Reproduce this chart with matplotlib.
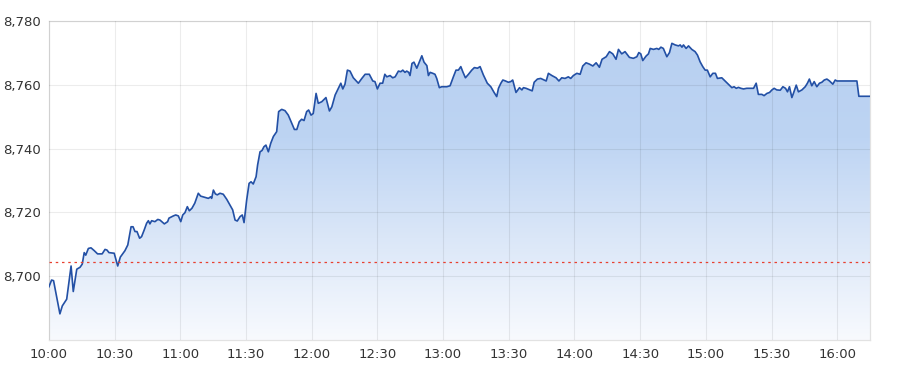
import matplotlib
matplotlib.use('Agg')
import matplotlib.pyplot as plt
import numpy as np
from matplotlib.colors import LinearSegmentedColormap
from matplotlib.ticker import FuncFormatter

# %% data (minutes after 10:00, index level)
minutes = [0, 1.2, 2.1, 3.5, 5.0, 6.1, 8.1, 10.1, 11.1, 12.7, 14.2, 15.2, 16.1, 16.8, 18.0, 19.2,
           20.7, 22.2, 24.3, 25.6, 26.5, 27.4, 29.8, 31.4, 32.6, 34.7, 36.0, 37.5, 38.4, 39.3,
           40.2, 41.4, 42.3, 43.5, 44.6, 45.4, 46.1, 46.9, 48.4, 49.7, 50.7, 52.7, 54.2, 54.8,
           56.8, 57.9, 59.1, 60.2, 61.1, 62.1, 63.2, 64.1, 65.3, 66.6, 68.2, 69.3, 71.3, 72.8,
           73.9, 74.3, 75.1, 76.0, 76.9, 78.1, 79.6, 81.2, 82.7, 83.9, 85.0, 86.0, 87.3, 88.3,
           89.1, 90.3, 91.4, 92.3, 93.3, 94.6, 95.3, 96.4, 97.3, 98.2, 99.1, 100.2, 101.3,
           102.5, 104.0, 104.9, 106.3, 107.8, 109.3, 110.9, 112.1, 113.2, 114.3, 115.4, 116.5,
           117.7, 118.6, 119.7, 120.7, 122.0, 123.0, 124.6, 126.5, 128.1, 129.2, 130.7, 132.2,
           133.3, 134.2, 135.2, 136.3, 137.5, 139.0, 141.3, 142.9, 144.4, 146.3, 147.9, 148.9,
           150.0, 151.2, 152.4, 153.4, 154.3, 155.8, 157.0, 158.1, 159.6, 160.7, 161.6, 162.6,
           163.4, 164.3, 164.9, 165.8, 166.7, 168.0, 169.2, 170.3, 171.3, 172.6, 173.3, 174.1,
           175.3, 176.3, 177.1, 178.3, 179.4, 181.7, 183.2, 184.7, 185.9, 187.0, 188.1, 189.0,
           190.2, 191.6, 193.1, 194.3, 195.7, 196.9, 198.4, 200.2, 201.8, 203.3, 204.5, 205.3,
           206.4, 207.3, 208.5, 209.8, 210.9, 211.8, 213.3, 214.9, 216.0, 216.7, 217.9, 219.7,
           220.7, 221.6, 223.1, 224.6, 226.1, 227.1, 228.1, 229.7, 231.6, 232.9, 234.2, 235.7,
           237.2, 238.3, 239.5, 241.1, 242.6, 243.8, 245.3, 246.8, 248.4, 249.9, 251.4, 252.6,
           254.5, 256.0, 257.5, 259.0, 260.1, 261.6, 263.1, 265.1, 266.9, 268.5, 269.4, 270.3,
           271.2, 272.7, 273.8, 274.6, 276.1, 277.6, 278.5, 279.5, 280.6, 282.2, 283.4, 284.5,
           286.0, 287.5, 288.3, 289.1, 289.8, 291.0, 292.1, 293.6, 295.1, 296.2, 297.4, 298.6,
           299.7, 300.7, 302.0, 303.2, 304.4, 305.3, 307.3, 308.8, 310.3, 311.9, 312.9, 313.9,
           314.9, 316.0, 317.2, 318.7, 321.8, 323.0, 324.0, 325.6, 326.6, 327.9, 329.1, 330.2,
           331.2, 332.4, 334.0, 335.2, 336.4, 337.3, 338.2, 339.3, 340.0, 341.3, 342.3, 343.9,
           345.4, 346.4, 347.3, 348.4, 349.5, 350.7, 351.9, 353.0, 354.1, 355.3, 356.5, 358.0,
           359.1, 359.9, 369.0, 369.9, 375.0]
price = [8696.7, 8698.8, 8698.6, 8693.6, 8688.2, 8690.7, 8692.8, 8703.2, 8695.2, 8702.2, 8702.8,
         8703.8, 8707.4, 8706.6, 8708.7, 8708.9, 8708.0, 8707.0, 8707.0, 8708.4, 8708.2, 8707.4,
         8707.2, 8703.2, 8706.0, 8708.0, 8709.8, 8715.5, 8715.5, 8714.0, 8714.0, 8711.9, 8712.4,
         8714.5, 8716.6, 8717.4, 8716.4, 8717.4, 8717.1, 8717.8, 8717.6, 8716.4, 8717.1, 8718.2,
         8718.9, 8719.2, 8718.9, 8717.1, 8719.2, 8719.9, 8721.8, 8720.5, 8721.3, 8722.9, 8726.0,
         8725.1, 8724.7, 8724.4, 8724.9, 8724.4, 8727.0, 8725.8, 8725.5, 8726.0, 8725.7, 8724.1,
         8722.3, 8720.8, 8717.6, 8717.3, 8718.7, 8719.2, 8716.8, 8723.9, 8729.1, 8729.6, 8728.9,
         8731.2, 8734.9, 8739.0, 8739.4, 8740.6, 8741.1, 8739.0, 8741.7, 8743.8, 8745.3, 8751.6,
         8752.3, 8751.9, 8750.5, 8747.9, 8746.0, 8746.0, 8748.4, 8749.2, 8748.8, 8751.6, 8752.1,
         8750.5, 8751.0, 8757.3, 8754.2, 8754.7, 8756.0, 8751.8, 8753.1, 8756.8, 8758.9, 8760.5,
         8758.7, 8760.2, 8764.6, 8764.3, 8762.2, 8760.5, 8762.0, 8763.3, 8763.3, 8761.2, 8761.0,
         8758.7, 8760.5, 8760.5, 8763.3, 8762.5, 8762.9, 8762.2, 8762.5, 8764.3, 8764.1, 8764.6,
         8763.9, 8764.3, 8763.9, 8762.9, 8766.7, 8767.1, 8765.2, 8767.2, 8769.1, 8767.1, 8766.0,
         8762.9, 8763.9, 8763.6, 8763.3, 8762.0, 8759.1, 8759.4, 8759.4, 8759.7, 8762.5, 8764.6,
         8764.6, 8765.7, 8764.1, 8762.2, 8763.3, 8764.6, 8765.4, 8765.2, 8765.7, 8763.1, 8760.5,
         8759.4, 8757.6, 8756.3, 8758.9, 8760.5, 8761.5, 8761.2, 8760.8, 8761.0, 8761.5, 8757.6,
         8759.1, 8758.4, 8759.1, 8758.9, 8758.4, 8758.1, 8760.8, 8761.8, 8762.0, 8761.5, 8761.2,
         8763.6, 8762.9, 8762.2, 8761.2, 8762.2, 8762.0, 8762.5, 8762.0, 8762.9, 8763.6, 8763.3,
         8765.9, 8766.9, 8766.5, 8765.9, 8766.9, 8765.5, 8768.0, 8768.8, 8770.4, 8769.7, 8768.0,
         8771.1, 8769.7, 8770.4, 8768.6, 8768.3, 8768.8, 8770.1, 8769.7, 8767.6, 8769.0, 8769.7,
         8771.4, 8771.1, 8771.4, 8771.1, 8771.8, 8771.4, 8768.8, 8770.1, 8773.0, 8772.5, 8772.2,
         8772.5, 8771.8, 8772.5, 8771.4, 8772.2, 8771.1, 8770.4, 8769.3, 8767.2, 8765.7, 8764.6,
         8764.6, 8762.5, 8763.6, 8763.6, 8762.0, 8762.2, 8761.2, 8760.2, 8759.1, 8759.4, 8758.9,
         8759.2, 8758.9, 8758.7, 8758.9, 8758.9, 8760.5, 8757.0, 8757.0, 8756.6, 8757.3, 8757.6,
         8758.4, 8758.9, 8758.4, 8758.3, 8759.4, 8758.9, 8757.8, 8759.4, 8756.0, 8757.3, 8759.9,
         8757.8, 8758.4, 8759.4, 8760.5, 8761.8, 8759.7, 8761.0, 8759.4, 8760.5, 8760.8, 8761.5,
         8761.8, 8761.2, 8760.2, 8761.5, 8761.2, 8761.2, 8756.4, 8756.4]
prev_close = 8704.4

tick_minutes = [0, 30, 60, 90, 120, 150, 180, 210, 240, 270, 300, 330, 360]
tick_labels = ['10:00', '10:30', '11:00', '11:30', '12:00', '12:30', '13:00',
               '13:30', '14:00', '14:30', '15:00', '15:30', '16:00']
y_ticks = [8700, 8720, 8740, 8760, 8780]

# %% figure
fig = plt.figure(figsize=(9, 3.75), dpi=100)
ax = fig.add_axes([0.0544, 0.0933, 0.9123, 0.8507])
ax.set_xlim(0, 375)
ax.set_ylim(8680, 8780)

# gradient fill under the line, clipped to the area
cmap = LinearSegmentedColormap.from_list('fade', ['#f8fafe', '#dbe7f8', '#bdd4f3', '#b8d0f1'])
grad = np.linspace(0, 1, 256).reshape(-1, 1)
img = ax.imshow(grad, cmap=cmap, aspect='auto', origin='lower',
                extent=[0, 375, 8680, 8775], zorder=1)
area = ax.fill_between(minutes, price, 8680, facecolor='none', edgecolor='none')
img.set_clip_path(area.get_paths()[0], transform=ax.transData)

ax.plot(minutes, price, color='#2350a5', linewidth=1.2, zorder=3)
ax.axhline(prev_close, color='#e8402f', linewidth=0.9, linestyle=(0, (2, 3)), zorder=4)

# %% axes styling
ax.set_xticks(tick_minutes)
ax.set_xticklabels(tick_labels)
ax.set_yticks(y_ticks)
ax.yaxis.set_major_formatter(FuncFormatter(lambda v, p: '{:,.0f}'.format(v)))
ax.tick_params(length=0, labelsize=9.5, labelcolor='#333333', pad=6)
# grid drawn over the fill so it shows through, as in the reference
ax.set_axisbelow(False)
ax.grid(True, color='#000000', alpha=0.075, linewidth=0.8)
for s in ax.spines.values():
    s.set_color('#e2e2e2')
    s.set_linewidth(0.9)

fig.savefig('out.png', dpi=100)
